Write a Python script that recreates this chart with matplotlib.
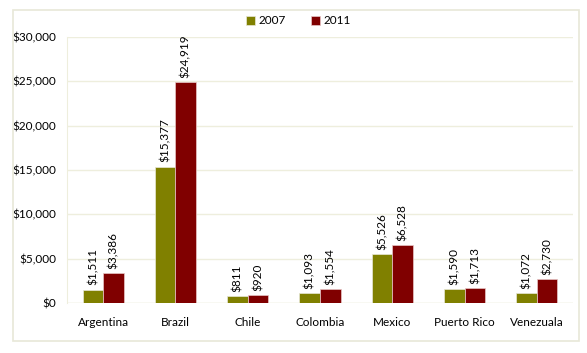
import matplotlib
matplotlib.use("Agg")
import matplotlib.pyplot as plt
import numpy as np
from matplotlib.patches import Rectangle

categories = ["Argentina", "Brazil", "Chile", "Colombia", "Mexico", "Puerto Rico", "Venezuala"]
vals_2007 = [1511, 15377, 811, 1093, 5526, 1590, 1072]
vals_2011 = [3386, 24919, 920, 1554, 6528, 1713, 2730]
series = ["2007", "2011"]
colors = ["#808000", "#800000"]

plt.rcParams['font.family'] = ['Lato', 'DejaVu Sans']

fig = plt.figure(figsize=(5.87, 3.53), dpi=100)
W, H = 587, 353
# outer border
fig.patches.append(Rectangle((13 / W, (H - 341) / H), (579 - 13) / W, (341 - 10) / H,
                             transform=fig.transFigure, fill=False, edgecolor="#E8E8D8", lw=1.2))
ax = fig.add_axes([67 / W, (H - 303) / H, (573 - 67) / W, (303 - 37) / H])

x = np.arange(len(categories))
w = 0.285
b1 = ax.bar(x - w / 2, vals_2007, w, color=colors[0], edgecolor="#E8E8D8", lw=0.5, label=series[0], zorder=3)
b2 = ax.bar(x + w / 2, vals_2011, w, color=colors[1], edgecolor="#E8C8C8", lw=0.5, label=series[1], zorder=3)

for bars, vals in ((b1, vals_2007), (b2, vals_2011)):
    for r, v in zip(bars, vals):
        ax.annotate(f"${v:,}", (r.get_x() + r.get_width() / 2, v), xytext=(0, 3),
                    textcoords="offset points", rotation=90, ha="center", va="bottom", fontsize=8.5)

ax.set_xlim(-0.5, len(categories) - 0.5)
ax.set_ylim(0, 30000)
ax.set_yticks(np.arange(0, 30001, 5000))
ax.set_yticklabels([f"${t:,}" for t in range(0, 30001, 5000)], fontsize=8.5)
ax.set_xticks(x)
ax.set_xticklabels(categories, fontsize=8.5)
ax.tick_params(length=0, pad=8)
ax.tick_params(axis='x', pad=10)
ax.grid(axis='y', color="#EEEEDD", lw=1, zorder=0)
for s in ["top", "right", "bottom"]:
    ax.spines[s].set_visible(False)
ax.spines["left"].set_color("#EEEEDD")
ax.axhline(0, color="#EEEEDD", lw=1, zorder=2)

fig.legend(handles=[b1, b2], labels=series, loc="center", bbox_to_anchor=(298.5 / W, (H - 21) / H),
           ncol=2, frameon=False, fontsize=8.5, handlelength=0.7, handleheight=0.7,
           columnspacing=2.2, handletextpad=0.3)

fig.savefig("out.png", dpi=100)
